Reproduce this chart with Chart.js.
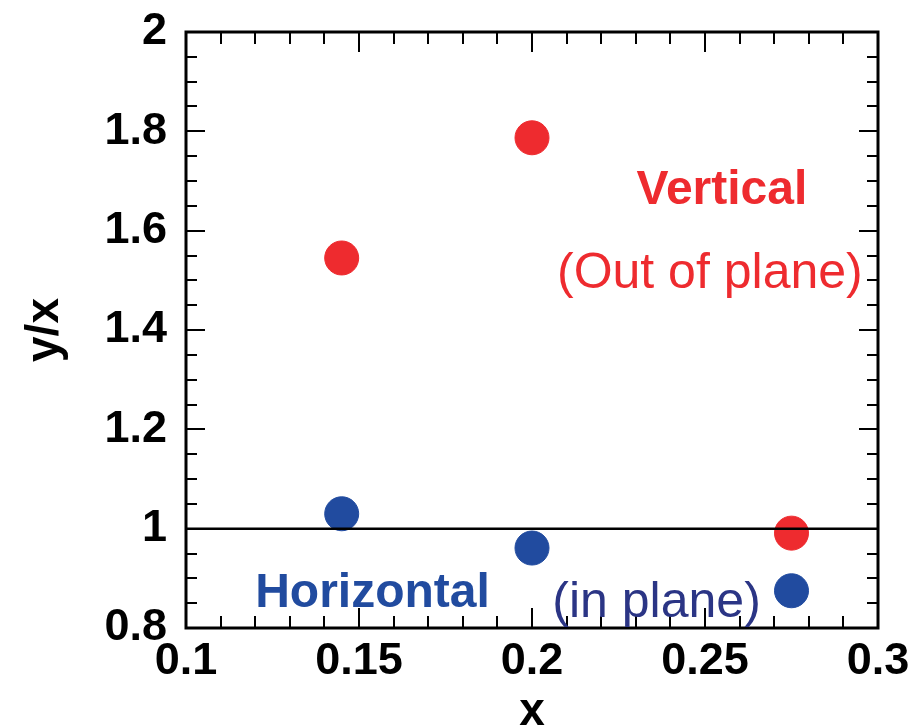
<!DOCTYPE html>
<html>
<head>
<meta charset="utf-8">
<script src="https://cdn.jsdelivr.net/npm/chart.js@4.4.1/dist/chart.umd.min.js"></script>
<style>
  html, body { margin: 0; padding: 0; background: #fff; }
  #wrap { width: 915px; height: 728px; }
</style>
</head>
<body>
<div id="wrap"><canvas id="c"></canvas></div>
<script>
// data
const xValues = [0.145, 0.2, 0.275];
const verticalY = [1.545, 1.787, 0.991];
const horizontalY = [1.030, 0.961, 0.875];
const refLineX = [0.1, 0.3];
const refLineY = [1, 1];

// axis ranges / ticks
const xRange = [0.1, 0.3];
const yRange = [0.8, 2];
const xMajor = 0.05, xMinor = 0.01;
const yMajor = 0.2, yMinor = 0.05;

// text labels inside the plot (data coords, centre / baseline)
const notes = [
  { text: 'Vertical', x: 0.2549, y: 1.654, color: '#ee2b2f', weight: 'bold' },
  { text: '(Out of plane)', x: 0.2514, y: 1.4846, color: '#ee2b2f', weight: 'normal' },
  { text: 'Horizontal', x: 0.1539, y: 0.8424, color: '#214b9f', weight: 'bold' },
  { text: '(in plane)', x: 0.2360, y: 0.8222, color: '#2b3585', weight: 'normal' },
];

const RED = '#ee2b2f';
const BLUE = '#214b9f';
const FONT = '"Liberation Sans", Arial, Helvetica, sans-serif';

// frame, inward ticks on all four sides, notes and axis titles
const framePlugin = {
  id: 'framePlugin',
  afterDatasetsDraw(chart) {
    const { ctx, chartArea: a, scales: { x, y } } = chart;
    ctx.save();
    ctx.strokeStyle = '#000';
    ctx.lineCap = 'butt';

    // ticks
    ctx.lineWidth = 2;
    const nx = Math.round((xRange[1] - xRange[0]) / xMinor);
    for (let i = 1; i < nx; i++) {
      const v = xRange[0] + i * xMinor;
      const px = Math.round(x.getPixelForValue(v));
      const len = (i % Math.round(xMajor / xMinor) === 0) ? 20 : 12;
      ctx.beginPath();
      ctx.moveTo(px, a.bottom); ctx.lineTo(px, a.bottom - len);
      ctx.moveTo(px, a.top); ctx.lineTo(px, a.top + len);
      ctx.stroke();
    }
    const ny = Math.round((yRange[1] - yRange[0]) / yMinor);
    for (let i = 1; i < ny; i++) {
      const v = yRange[0] + i * yMinor;
      const py = Math.round(y.getPixelForValue(v));
      const len = (i % Math.round(yMajor / yMinor) === 0) ? 19 : 11;
      ctx.beginPath();
      ctx.moveTo(a.left, py); ctx.lineTo(a.left + len, py);
      ctx.moveTo(a.right, py); ctx.lineTo(a.right - len, py);
      ctx.stroke();
    }

    // frame
    ctx.lineWidth = 3;
    ctx.strokeRect(a.left, a.top, a.right - a.left, a.bottom - a.top);

    // notes
    ctx.textAlign = 'center';
    ctx.textBaseline = 'alphabetic';
    notes.forEach((n) => {
      ctx.fillStyle = n.color;
      ctx.font = `${n.weight} ${n.weight === 'bold' ? 48 : 50}px ${FONT}`;
      ctx.fillText(n.text, x.getPixelForValue(n.x), y.getPixelForValue(n.y));
    });

    // axis titles
    ctx.fillStyle = '#000';
    ctx.font = `bold 46px ${FONT}`;
    ctx.textBaseline = 'middle';
    ctx.fillText('x', (a.left + a.right) / 2, 712);
    ctx.translate(45, (a.top + a.bottom) / 2);
    ctx.rotate(-Math.PI / 2);
    ctx.fillText('y/x', 0, 0);
    ctx.restore();
  },
};

const toPoints = (xs, ys) => xs.map((v, i) => ({ x: v, y: ys[i] }));

new Chart(document.getElementById('c'), {
  type: 'scatter',
  data: {
    datasets: [
      {
        type: 'line',
        label: 'y/x = 1',
        data: toPoints(refLineX, refLineY),
        borderColor: '#000',
        borderWidth: 2.5,
        pointRadius: 0,
        fill: false,
      },
      {
        label: 'Vertical',
        data: toPoints(xValues, verticalY),
        backgroundColor: RED,
        borderColor: RED,
        pointRadius: 17,
        pointHoverRadius: 17,
      },
      {
        label: 'Horizontal',
        data: toPoints(xValues, horizontalY),
        backgroundColor: BLUE,
        borderColor: BLUE,
        pointRadius: 17,
        pointHoverRadius: 17,
      },
    ],
  },
  options: {
    responsive: true,
    maintainAspectRatio: false,
    animation: false,
    layout: { padding: { left: 0, top: 32, right: 37, bottom: 0 } },
    scales: {
      x: {
        type: 'linear',
        min: xRange[0],
        max: xRange[1],
        afterFit: (s) => { s.height = 100; s.paddingLeft = 0; s.paddingRight = 0; },
        grid: { display: false, drawTicks: false },
        border: { display: false },
        ticks: {
          stepSize: xMajor,
          padding: 7,
          color: '#000',
          maxRotation: 0,
          autoSkip: false,
          font: { family: FONT, size: 45, weight: 'bold' },
          callback: (v) => String(+v.toFixed(2)),
        },
      },
      y: {
        type: 'linear',
        min: yRange[0],
        max: yRange[1],
        afterFit: (s) => { s.width = 186; s.paddingTop = 0; s.paddingBottom = 0; },
        grid: { display: false, drawTicks: false },
        border: { display: false },
        ticks: {
          stepSize: yMajor,
          padding: 19,
          color: '#000',
          autoSkip: false,
          font: { family: FONT, size: 45, weight: 'bold' },
          callback: (v) => String(+v.toFixed(2)),
        },
      },
    },
    plugins: {
      legend: { display: false },
      tooltip: { enabled: false },
    },
  },
  plugins: [framePlugin],
});
</script>
</body>
</html>
